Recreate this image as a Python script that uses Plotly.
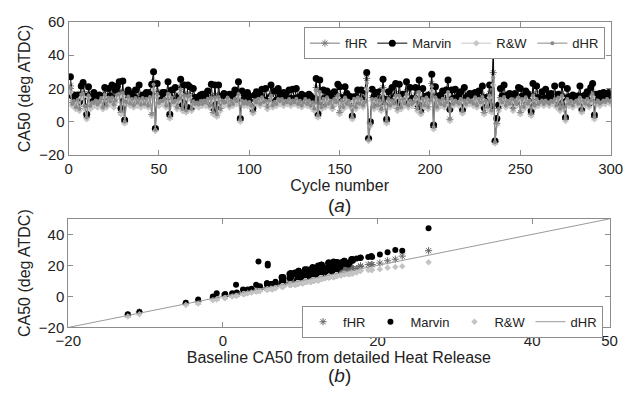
import plotly.graph_objects as go

cycle = list(range(1, 301))

dHR = [
    20.3, 10.6, 12.4, 8.7, 13.2, 7.6, 16.4, 16.8, 9.3, 2.6, 15.7, 9.4, 11.6, 11.3, 12.7, 10.4, 11.8, 14.3, 8.6, 16.2,
    9.7, 14.4, 12.2, 14.6, 10.3, 12.8, 16.3, 16.6, 6.4, 17.3, 0.2, 11.7, 15.2, 10.8, 13.6, 9.8, 14.2, 11.4, 13.7, 10.2,
    14.3, 10.6, 13.8, 9.6, 14.8, 4.6, 22.3, -4.8, 16.6, 11.3, 12.6, 12.4, 13.7, 9.6, 16.8, 3.2, 14.4, 11.7, 12.8, 8.6,
    13.6, 19.3, 7.7, 15.6, 6.8, 15.3, 15.8, 7.6, 12.3, 10.7, 11.6, 10.3, 12.4, 10.6, 12.7, 11.4, 13.8, 9.6, 14.3, 5.7,
    14.6, 4.3, 14.8, 7.6, 12.8, 11.4, 11.7, 14.6, 9.8, 12.6, 10.7, 13.6, 12.3, 16.7, 1.2, 12.6, 10.8, 12.3, 10.6, 11.8,
    9.7, 6.2, 12.7, 11.6, 13.8, 10.6, 14.7, 11.8, 12.6, 8.8, 12.7, 15.6, 9.7, 11.8, 10.6, 13.7, 12.3, 13.6, 10.8, 12.6,
    11.7, 13.6, 10.8, 12.7, 11.6, 13.8, 10.7, 12.6, 9.8, 11.6, 13.7, 10.6, 12.8, 9.6, 11.7, 7.8, 19.2, 3.7, 17.8, 8.7,
    13.8, 9.6, 14.7, 10.8, 12.6, 8.7, 13.6, 11.7, 15.8, 5.8, 12.7, 8.8, 14.6, 10.7, 12.6, 9.8, 2.7, 13.8, 8.7, 14.6,
    10.8, 13.6, 9.7, 11.8, 23.2, -10.8, -1.3, 13.7, 8.8, 13.6, 9.7, 12.8, 7.7, 18.8, 10.8, 0.3, 13.6, 9.8, 12.7, 10.8,
    15.7, 7.8, 15.6, 8.7, 13.6, 10.8, 16.7, 9.8, 12.7, 10.6, 11.8, 14.7, 7.8, 17.8, 5.7, 13.8, 9.7, 14.6, 8.8, 12.7,
    21.3, -3.2, 14.7, 8.8, 12.7, 10.6, 13.8, 9.7, 11.6, 17.8, 1.7, 13.6, 10.7, 12.8, 11.7, 10.8, 13.6, 6.3, 12.8, 10.7,
    13.7, 11.8, 12.6, 10.8, 14.7, 9.7, 13.8, 11.6, 14.8, 5.7, 12.6, 8.8, 15.7, 6.8, 26.6, -12.3, -0.8, 7.7, 13.8, 11.6,
    14.8, 9.7, 12.6, 10.8, 13.7, 7.8, 12.8, 10.7, 14.6, 5.8, 13.7, 8.8, 14.7, 10.8, 12.6, 4.8, 15.7, 9.8, 13.6, 10.7,
    11.8, 12.7, 10.6, 12.8, 11.7, 10.8, 12.6, 11.8, 13.7, 9.8, 14.6, 7.8, 15.7, 8.8, 1.8, 13.7, 10.8, 12.6, 9.7, 11.8,
    12.7, 10.8, 14.6, 6.8, 12.7, 10.8, 13.6, 9.8, 12.7, 16.8, 2.8, 11.7, 12.6, 10.8, 11.7, 12.8, 11.8, 13.7, 12.6, 11.8,
]

marvin = [
    27, 15.5, 16, 14, 16, 12, 21.5, 23.5, 15.5, 4.5, 21, 14, 15, 17.5, 15.5, 15.5, 16, 15.5, 14.5, 20.5,
    11.5, 20, 15.5, 22, 12.5, 19, 21.5, 24, 8, 24.5, 1, 16.5, 19, 17, 16.5, 15, 19, 12.5, 22, 13.5,
    16, 15.5, 17.5, 15.5, 17.5, 22.5, 30, -4, 23, 15, 14.5, 17.5, 17.5, 15.5, 24, 4.5, 19, 12.5, 20.5, 12,
    15.5, 25.5, 10.5, 22, 9, 22, 21, 8.5, 20, 14.5, 13.5, 15, 16, 16.5, 15.5, 17, 18.5, 10.5, 22.5, 8.5,
    22, 7.5, 22, 12.5, 15.5, 17, 16, 15.5, 16.5, 16.5, 12.5, 19, 15.5, 24, 2, 18.5, 15, 13.5, 17.5, 15.5,
    11.5, 8, 16, 18, 16.5, 16, 19.5, 13, 20, 12, 14.5, 22, 13, 18.5, 13, 20, 16.5, 14.5, 17.5, 16.5,
    13.5, 19, 14, 19.5, 14, 20, 14.5, 13.5, 16.5, 15.5, 15.5, 15.5, 16.5, 15.5, 14.5, 12.5, 26, 5, 25, 12,
    19, 14, 18.5, 17, 15.5, 13.5, 18, 12.5, 22.5, 21, 14.5, 13, 21, 17, 15.5, 15, 3.5, 15, 15, 19,
    12.5, 19, 13, 18.5, 29.5, -10, 0, 19.5, 15, 17.5, 11.5, 18, 10.5, 25.5, 13.5, 1.5, 18, 11, 20.5, 14.5,
    23, 11.5, 22.5, 14, 16.5, 16, 24, 11, 20.5, 14, 13.5, 20.5, 10.5, 25, 7.5, 20, 13.5, 15.5, 15, 16.5,
    28.5, -2, 21, 14.5, 15.5, 16, 18.5, 10.5, 19, 25, 7.5, 19, 14, 19.5, 14.5, 16, 18, 7.5, 20.5, 14.5,
    15.5, 17, 16, 17, 17.5, 15, 18.5, 12.5, 21.5, 8.5, 14.5, 13, 22, 9.5, 44, -11.5, 2, 10, 20, 15.5,
    22, 14, 16, 17, 16.5, 10, 17, 11.5, 20.5, 20, 15.5, 13, 18.5, 17, 15.5, 6.5, 23, 11, 21.5, 14.5,
    13.5, 18, 14, 19.5, 14.5, 16, 17, 13, 21.5, 13, 16.5, 11.5, 22, 14.5, 2.5, 20, 15, 13.5, 16, 15.5,
    14.5, 15.5, 21.5, 8, 15.5, 16, 18, 11, 20.5, 23, 4, 16.5, 16, 17, 14.5, 17.5, 16, 15, 17.5, 16,
]

fHR = [
    21.5, 11.5, 12.5, 9, 13.5, 8, 17, 18, 9.5, 2.5, 17, 9, 12.5, 11.5, 13.5, 10, 12.5, 14.5, 9, 17,
    10.5, 14.5, 12.5, 16, 10, 13.5, 17, 18, 5.5, 18, 0, 12.5, 15.5, 11, 14.5, 10.5, 14.5, 11.5, 14.5, 10,
    14.5, 11.5, 14.5, 10, 15.5, 4.5, 24, -4.5, 18, 11.5, 13.5, 12, 14.5, 10, 18, 3, 14.5, 12.5, 13.5, 9,
    14.5, 20.5, 8, 17, 6.5, 16, 17, 8, 12.5, 11, 12.5, 10, 12.5, 11.5, 13.5, 11, 14.5, 10, 14.5, 5.5,
    16, 4, 16, 8, 13.5, 11.5, 12, 15.5, 10, 13.5, 11, 14.5, 12.5, 18, 1, 13.5, 11, 12.5, 11.5, 12,
    10.5, 6, 13.5, 12, 14.5, 11.5, 16, 12.5, 13, 9, 13.5, 17, 10, 12.5, 11, 14.5, 12, 14.5, 11.5, 13.5,
    12.5, 14.5, 11, 13.5, 12, 14.5, 11.5, 13.5, 10, 12.5, 14.5, 11, 13.5, 10, 12.5, 7.5, 20.5, 3.5, 19.5, 9,
    14.5, 10, 16, 11.5, 13.5, 9, 14.5, 12.5, 17, 5.5, 13.5, 9, 16, 11, 13.5, 10, 2.5, 14.5, 9, 16,
    11.5, 14.5, 10, 12.5, 26, -10, -1, 14.5, 9, 14.5, 10, 13.5, 7.5, 20.5, 11.5, 0, 14.5, 10, 13.5, 11,
    17, 8, 17, 9, 14.5, 11.5, 18, 10, 13.5, 11, 12.5, 16, 8, 19.5, 5.5, 14.5, 10, 16, 9, 13.5,
    23, -3.5, 16, 9, 13.5, 11.5, 14.5, 10, 12.5, 19.5, 1.5, 14.5, 11, 13.5, 12, 11.5, 14.5, 6, 13.5, 11,
    14.5, 12.5, 13.5, 11, 16, 10, 14.5, 12.5, 16, 5.5, 13.5, 9, 17, 6.5, 29.5, -12, -1, 8, 14.5, 12.5,
    16, 10, 13.5, 11.5, 14.5, 8, 13.5, 11, 16, 5.5, 14.5, 9, 16, 11.5, 13.5, 4.5, 17, 10, 14.5, 11,
    12.5, 13.5, 11, 13.5, 12, 11.5, 13.5, 12.5, 14.5, 10, 16, 8, 17, 9, 1.5, 14.5, 11, 13.5, 10, 12.5,
    13.5, 11, 16, 6.5, 13.5, 11.5, 14.5, 10, 13.5, 18, 2.5, 12.5, 13.5, 11, 12.5, 13.5, 12, 14.5, 13.5, 12.5,
]

RW = [
    17.5, 9.5, 10.5, 7.5, 11.5, 6.5, 14.5, 15, 7.5, 1.5, 14.5, 7.5, 10.5, 9.5, 11.5, 8.5, 10.5, 12.5, 7.5, 14.5,
    8.5, 12.5, 10.5, 13.5, 8.5, 11.5, 14.5, 15, 4.5, 15.5, -1, 10.5, 13.5, 9.5, 12.5, 8.5, 12.5, 9.5, 12.5, 8.5,
    12.5, 9.5, 12.5, 8.5, 13.5, 3.5, 19, -5.5, 15.5, 9.5, 11.5, 10.5, 12.5, 8.5, 15, 2, 12.5, 10.5, 11.5, 7.5,
    12.5, 17, 6.5, 14.5, 5.5, 13.5, 14.5, 6.5, 10.5, 9.5, 10.5, 8.5, 10.5, 9.5, 11.5, 9.5, 12.5, 8.5, 12.5, 4.5,
    13.5, 3, 13.5, 6.5, 11.5, 9.5, 10.5, 13.5, 8.5, 11.5, 9.5, 12.5, 10.5, 15, 0, 11.5, 9.5, 10.5, 9.5, 10.5,
    8.5, 5, 11.5, 10.5, 12.5, 9.5, 13.5, 10.5, 11.5, 7.5, 11.5, 14.5, 8.5, 10.5, 9.5, 12.5, 10.5, 12.5, 9.5, 11.5,
    10.5, 12.5, 9.5, 11.5, 10.5, 12.5, 9.5, 11.5, 8.5, 10.5, 12.5, 9.5, 11.5, 8.5, 10.5, 6.5, 17, 2.5, 16.5, 7.5,
    12.5, 8.5, 13.5, 9.5, 11.5, 7.5, 12.5, 10.5, 14.5, 4.5, 11.5, 7.5, 13.5, 9.5, 11.5, 8.5, 1.5, 12.5, 7.5, 13.5,
    9.5, 12.5, 8.5, 10.5, 19.5, -11.5, -2.5, 12.5, 7.5, 12.5, 8.5, 11.5, 6.5, 17, 9.5, -1, 12.5, 8.5, 11.5, 9.5,
    14.5, 6.5, 14.5, 7.5, 12.5, 9.5, 15, 8.5, 11.5, 9.5, 10.5, 13.5, 6.5, 16.5, 4.5, 12.5, 8.5, 13.5, 7.5, 11.5,
    18.5, -4.5, 13.5, 7.5, 11.5, 9.5, 12.5, 8.5, 10.5, 16.5, 0.5, 12.5, 9.5, 11.5, 10.5, 9.5, 12.5, 5, 11.5, 9.5,
    12.5, 10.5, 11.5, 9.5, 13.5, 8.5, 12.5, 10.5, 13.5, 4.5, 11.5, 7.5, 14.5, 5.5, 22, -13, -2, 6.5, 12.5, 10.5,
    13.5, 8.5, 11.5, 9.5, 12.5, 6.5, 11.5, 9.5, 13.5, 4.5, 12.5, 7.5, 13.5, 9.5, 11.5, 3.5, 14.5, 8.5, 12.5, 9.5,
    10.5, 11.5, 9.5, 11.5, 10.5, 9.5, 11.5, 10.5, 12.5, 8.5, 13.5, 6.5, 14.5, 7.5, 0.5, 12.5, 9.5, 11.5, 8.5, 10.5,
    11.5, 9.5, 13.5, 5.5, 11.5, 9.5, 12.5, 8.5, 11.5, 15, 1.5, 10.5, 11.5, 9.5, 10.5, 11.5, 10.5, 12.5, 11.5, 10.5,
]

ref_line = [-20, 50]
top_xticks = [0, 50, 100, 150, 200, 250, 300]
top_yticks = [-20, 0, 20, 40, 60]
bot_xticks = [-20, 0, 20, 40, 50]
bot_yticks = [-20, 0, 20, 40]

FONT = "Liberation Sans, Arial, sans-serif"
C_F = "#7a7a7a"
C_M = "#000000"
C_R = "#c6c6c6"
C_D = "#8a8a8a"

fig = go.Figure()

# ---- panel (a) ----
fig.add_trace(go.Scatter(x=cycle, y=fHR, name="fHR", mode="lines+markers",
                         line=dict(color=C_F, width=1),
                         marker=dict(symbol="asterisk-open", size=6, color=C_F, line=dict(color=C_F, width=1)),
                         xaxis="x", yaxis="y", legend="legend"))
fig.add_trace(go.Scatter(x=cycle, y=marvin, name="Marvin", mode="lines+markers",
                         line=dict(color=C_M, width=1),
                         marker=dict(symbol="circle", size=7, color=C_M),
                         xaxis="x", yaxis="y", legend="legend"))
fig.add_trace(go.Scatter(x=cycle, y=RW, name="R&W", mode="lines+markers",
                         line=dict(color=C_R, width=1),
                         marker=dict(symbol="diamond", size=5, color=C_R),
                         xaxis="x", yaxis="y", legend="legend"))
fig.add_trace(go.Scatter(x=cycle, y=dHR, name="dHR", mode="lines+markers",
                         line=dict(color=C_D, width=1),
                         marker=dict(symbol="circle", size=4, color=C_D),
                         xaxis="x", yaxis="y", legend="legend"))

# ---- panel (b) ----
fig.add_trace(go.Scatter(x=dHR, y=fHR, name="fHR", mode="markers",
                         marker=dict(symbol="asterisk-open", size=6, color="#666666", line=dict(color="#666666", width=1)),
                         xaxis="x2", yaxis="y2", legend="legend2"))
fig.add_trace(go.Scatter(x=dHR, y=marvin, name="Marvin", mode="markers",
                         marker=dict(symbol="circle", size=6, color="#000000"),
                         xaxis="x2", yaxis="y2", legend="legend2"))
fig.add_trace(go.Scatter(x=dHR, y=RW, name="R&W", mode="markers",
                         marker=dict(symbol="diamond", size=5, color="#c4c4c4"),
                         xaxis="x2", yaxis="y2", legend="legend2"))
fig.add_trace(go.Scatter(x=ref_line, y=ref_line, name="dHR", mode="lines",
                         line=dict(color="#9a9a9a", width=1),
                         xaxis="x2", yaxis="y2", legend="legend2"))

axis_common = dict(showline=True, linecolor="#8c8c8c", linewidth=1, mirror="ticks",
                   ticks="inside", ticklen=5, tickcolor="#8c8c8c", showgrid=False,
                   zeroline=False, tickfont=dict(family=FONT, size=15, color="#222222"))

legend_common = dict(orientation="h", xanchor="right", yanchor="top",
                     bgcolor="white", bordercolor="#8c8c8c", borderwidth=1,
                     font=dict(family=FONT, size=13, color="#222222"),
                     itemwidth=30, tracegroupgap=0)

title_font = dict(family=FONT, size=16, color="#222222")

fig.update_layout(
    width=640, height=396,
    margin=dict(l=0, r=0, t=0, b=0),
    paper_bgcolor="white", plot_bgcolor="white",
    showlegend=True,
    xaxis=dict(domain=[0.0906, 0.9734], anchor="y", range=[0, 300], tickvals=top_xticks,
               title=dict(text="Cycle number", font=title_font, standoff=0),
               **axis_common),
    yaxis=dict(domain=[0.6144, 0.9664], anchor="x", range=[-20, 60], tickvals=top_yticks,
               title=dict(text="CA50 (deg ATDC)", font=title_font, standoff=4),
               **axis_common),
    xaxis2=dict(domain=[0.0900, 0.9715], anchor="y2", range=[-20, 50], tickvals=bot_xticks,
                title=dict(text="Baseline CA50 from detailed Heat Release", font=title_font, standoff=0),
                **axis_common),
    yaxis2=dict(domain=[0.1598, 0.4462], anchor="x2", range=[-20, 50], tickvals=bot_yticks,
                title=dict(text="CA50 (deg ATDC)", font=title_font, standoff=4),
                **axis_common),
    legend=dict(x=0.964, y=0.952, **legend_common),
    legend2=dict(x=0.961, y=0.217, **legend_common),
    annotations=[
        dict(text="(<i>a</i>)", xref="paper", yref="paper", x=0.532, y=0.482,
             xanchor="center", yanchor="middle", showarrow=False,
             font=dict(family=FONT, size=19, color="#222222")),
        dict(text="(<i>b</i>)", xref="paper", yref="paper", x=0.532, y=0.0,
             xanchor="center", yanchor="bottom", showarrow=False,
             font=dict(family=FONT, size=19, color="#222222")),
    ],
)

fig.write_html("out.html")
